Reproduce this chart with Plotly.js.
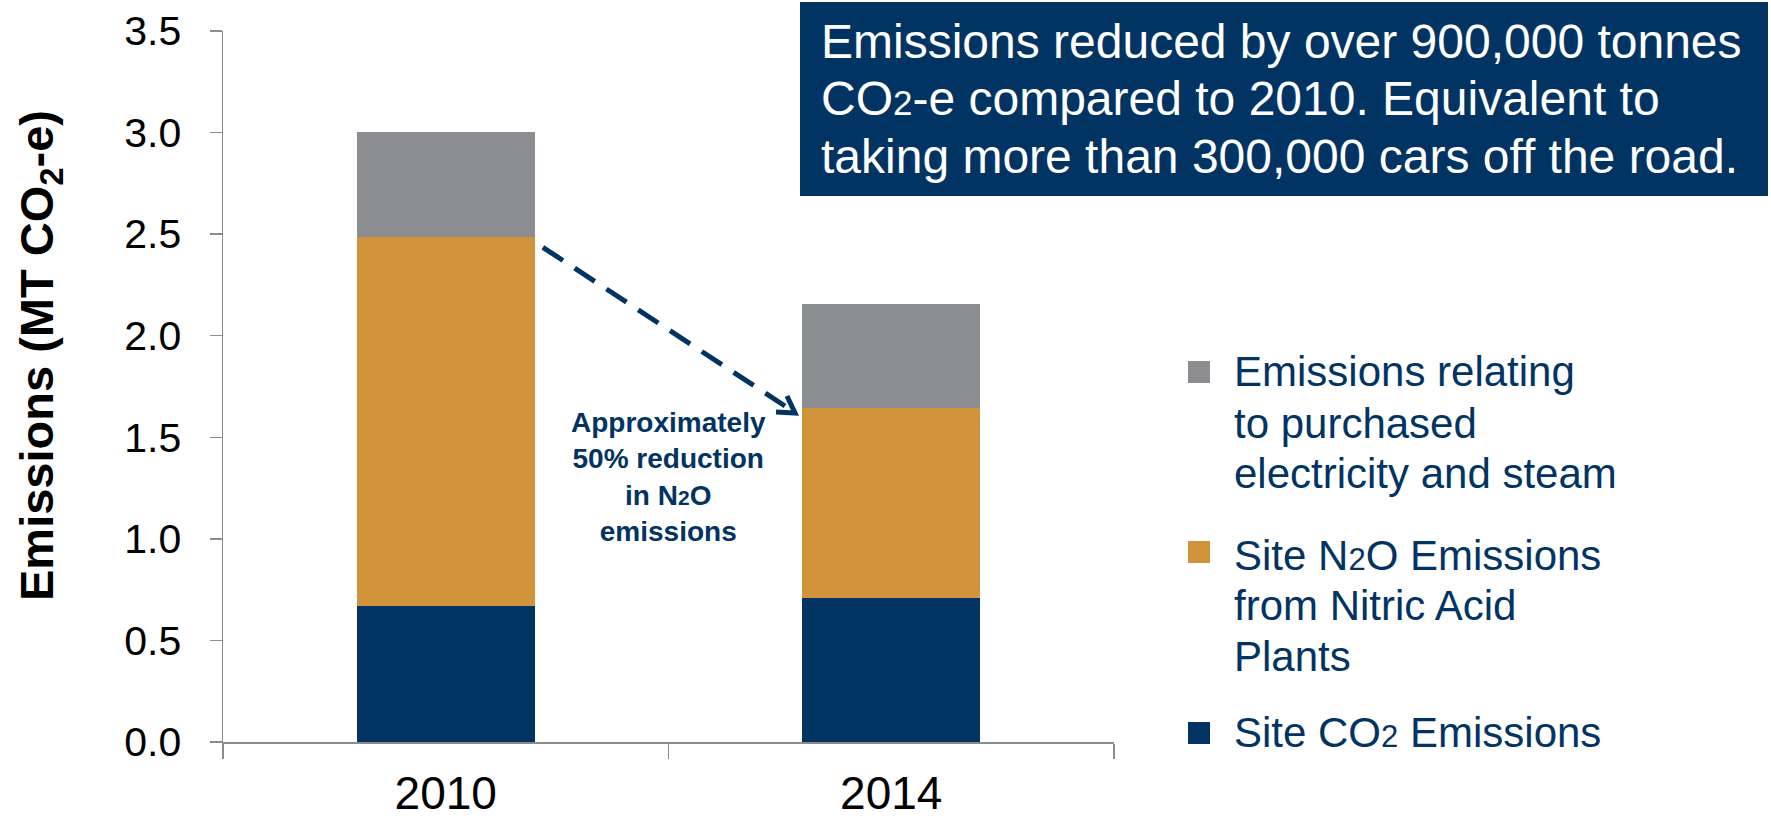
<!DOCTYPE html>
<html>
<head>
<meta charset="utf-8">
<script src="https://cdn.plot.ly/plotly-3.0.1.min.js"></script>
<style>html,body{margin:0;padding:0;background:#fff;}#chart{width:1771px;height:818px;}</style>
</head>
<body>
<div id="chart"></div>
<script>
// ---- data ----
const categories = ['2010', '2014'];
const siteCO2 = [0.67, 0.71];
const siteN2O = [1.815, 0.935];
const purchasedElec = [0.52, 0.51];
const yTickVals = [0, 0.5, 1.0, 1.5, 2.0, 2.5, 3.0, 3.5];
const seriesNames = ['Site CO2 Emissions', 'Site N2O Emissions from Nitric Acid Plants', 'Emissions relating to purchased electricity and steam'];
const legendLabels = [
  'Site CO<span style="font-size:31px">2</span> Emissions',
  'Site N<span style="font-size:31px">2</span>O Emissions<br>from Nitric Acid<br>Plants',
  'Emissions relating<br>to purchased<br>electricity and steam'
];
const boxLines = [
  'Emissions reduced by over 900,000 tonnes',
  'CO<span style="font-size:35px">2</span>-e compared to 2010. Equivalent to',
  'taking more than 300,000 cars off the road.'
];
const noteText = 'Approximately<br>50% reduction<br>in N<span style="font-size:21px">2</span>O<br>emissions';
const yTitle = '<b>Emissions (MT CO<sub>2</sub>-e)</b>';

// ---- styles ----
const NAVY = '#023463', ORANGE = '#D1943A', GRAY = '#8B8D91', AXIS = '#8c8c8c';
const colors = [NAVY, ORANGE, GRAY];
const FONT = 'Liberation Sans, Arial, sans-serif';

const values = [siteCO2, siteN2O, purchasedElec];
const traces = values.map((v, i) => ({
  type: 'bar', x: categories, y: v, name: seriesNames[i],
  marker: {color: colors[i], line: {width: 0}},
  hoverinfo: 'y+name'
}));

// plot area in pixels: x 223..1114, y 31..742
const W = 1771, H = 818, L = 223, R = 657, T = 31, B = 76;
const pw = W - L - R, ph = H - T - B;
const px = v => (v - L) / pw;       // pixel x -> paper
const py = v => (H - B - v) / ph;   // pixel y -> paper

const shapes = [];
const annotations = [];

// y-axis title (rotated annotation to match the original's offset)
annotations.push({xref: 'paper', yref: 'paper', x: px(40), y: py(356), xanchor: 'center', yanchor: 'middle',
  textangle: -90, text: yTitle, showarrow: false, borderpad: 0,
  font: {family: FONT, size: 47, color: '#000'}});

// text box
shapes.push({type: 'rect', xref: 'paper', yref: 'paper', x0: px(800), x1: px(1768), y0: py(196), y1: py(2),
  fillcolor: NAVY, line: {width: 0}, layer: 'above'});
const boxCenters = [41, 99, 156];
boxLines.forEach((t, i) => annotations.push({
  xref: 'paper', yref: 'paper', x: px(820), y: py(boxCenters[i]), xanchor: 'left', yanchor: 'middle',
  text: t, showarrow: false, borderpad: 0, font: {family: FONT, size: 48, color: '#ffffff'}
}));

// custom legend (top to bottom: gray, orange, navy), one annotation per text line
const LEG_FS = 42;
const legTops = [361, 541, 722];
const legBaselines = [[386, 438, 488], [570, 620, 671], [747]];
[2, 1, 0].forEach((si, k) => {
  shapes.push({type: 'rect', xref: 'paper', yref: 'paper', x0: px(1188), x1: px(1210),
    y0: py(legTops[k] + 22), y1: py(legTops[k]), fillcolor: colors[si], line: {width: 0}});
  legendLabels[si].split('<br>').forEach((line, j) => annotations.push({
    xref: 'paper', yref: 'paper', x: px(1233), y: py(legBaselines[k][j] - 0.3465 * LEG_FS),
    xanchor: 'left', yanchor: 'middle', align: 'left', text: line, showarrow: false, borderpad: 0,
    font: {family: FONT, size: LEG_FS, color: NAVY}}));
});

// note
annotations.push({xref: 'x', yref: 'y', x: 0.5, y: 1.655, xanchor: 'center', yanchor: 'top', align: 'center',
  text: '<b>' + noteText + '</b>', showarrow: false, borderpad: 0,
  font: {family: FONT, size: 28, color: NAVY}});

// dashed arrow (line + chevron head)
shapes.push({type: 'line', xref: 'x', yref: 'y', x0: 0.218, y0: 2.435, x1: 0.7615, y1: 1.654,
  line: {color: NAVY, width: 5, dash: '24px,14px'}});
const tipX = 795, tipY = 413;
shapes.push({type: 'path', xref: 'paper', yref: 'paper',
  path: 'M' + px(776) + ',' + py(412) + ' L' + px(tipX) + ',' + py(tipY) + ' L' + px(787) + ',' + py(396),
  line: {color: NAVY, width: 5}});

const layout = {
  width: W, height: H,
  margin: {l: L, r: R, t: T, b: B, pad: 0},
  paper_bgcolor: '#ffffff', plot_bgcolor: '#ffffff',
  barmode: 'stack', bargap: 0.6,
  showlegend: false,
  font: {family: FONT, color: '#000000'},
  xaxis: {
    type: 'category', showline: true, linecolor: AXIS, linewidth: 1.5,
    ticks: 'outside', ticklen: 15, tickcolor: AXIS, tickwidth: 1.5, tickson: 'boundaries',
    tickfont: {family: FONT, size: 46, color: '#000'}, showgrid: false, zeroline: false,
    ticklabelstandoff: 10
  },
  yaxis: {
    range: [0, 3.5], tickvals: yTickVals, tickformat: '.1f',
    showline: true, linecolor: AXIS, linewidth: 1.5,
    ticks: 'outside', ticklen: 12, tickcolor: AXIS, tickwidth: 1.5,
    tickfont: {family: FONT, size: 41, color: '#000'}, showgrid: false, zeroline: false,
    ticklabelstandoff: 20
  },
  shapes: shapes,
  annotations: annotations
};

Plotly.newPlot('chart', traces, layout, {displayModeBar: false, staticPlot: true});
</script>
</body>
</html>
